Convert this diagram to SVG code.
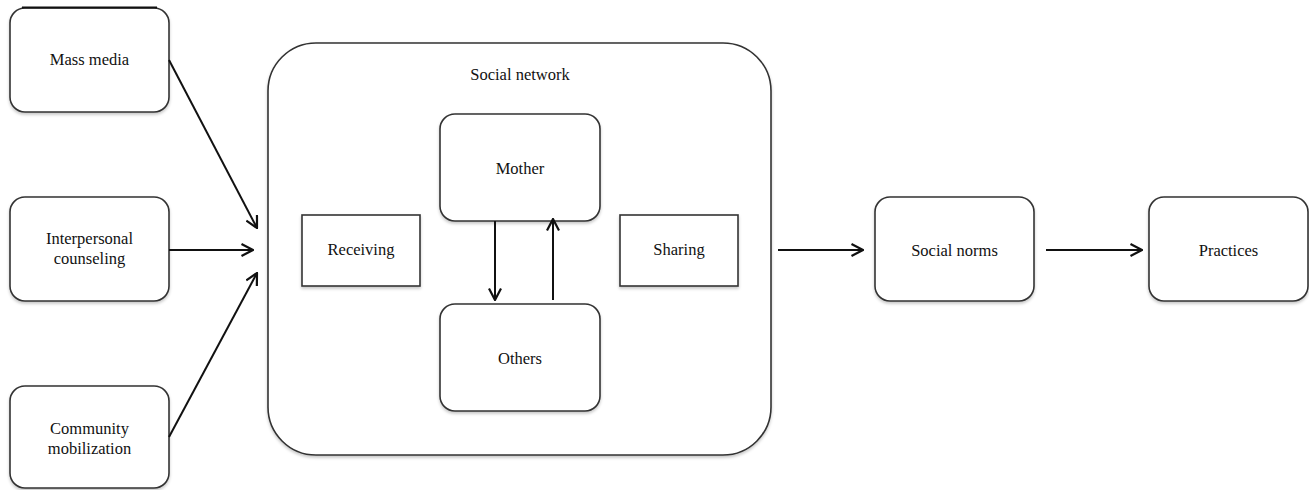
<svg xmlns="http://www.w3.org/2000/svg" width="1309" height="490" viewBox="0 0 1309 490">
  <defs>
    <filter id="sh" x="-10%" y="-10%" width="120%" height="130%">
      <feDropShadow dx="0" dy="2" stdDeviation="1.5" flood-color="#000" flood-opacity="0.22"/>
    </filter>
    <marker id="arr" viewBox="0 0 14 14" refX="13" refY="7" markerWidth="14" markerHeight="14" markerUnits="userSpaceOnUse" orient="auto">
      <path d="M1.5,1 L13,7 L1.5,13" fill="none" stroke="#111" stroke-width="2.2" stroke-linejoin="miter"/>
    </marker>
    <style>
      .box { fill: #fff; stroke: #333; stroke-width: 1.6; filter: url(#sh); }
      .lbl { font-family: "Liberation Serif", "Times New Roman", serif; font-size: 16.5px; fill: #111; text-anchor: middle; }
      .con { stroke: #111; stroke-width: 2; fill: none; marker-end: url(#arr); }
    </style>
  </defs>
  <rect width="1309" height="490" fill="#fff"/>

  <g id="mass-media">
    <rect class="box" x="10" y="8" width="159" height="104" rx="15"/>
    <line x1="22" y1="7.5" x2="157" y2="7.5" stroke="#111" stroke-width="2"/>
    <text class="lbl" x="89.5" y="65">Mass media</text>
  </g>
  <g id="interpersonal-counseling">
    <rect class="box" x="10" y="197" width="159" height="104" rx="15"/>
    <text class="lbl" x="89.5" y="244">Interpersonal</text>
    <text class="lbl" x="89.5" y="264">counseling</text>
  </g>
  <g id="community-mobilization">
    <rect class="box" x="10" y="386" width="159" height="102" rx="15"/>
    <text class="lbl" x="89.5" y="434">Community</text>
    <text class="lbl" x="89.5" y="454">mobilization</text>
  </g>

  <g id="social-network">
    <rect class="box" x="268" y="43" width="503" height="412" rx="48"/>
    <text class="lbl" x="520" y="80">Social network</text>
  </g>
  <g id="mother">
    <rect class="box" x="440" y="114" width="160" height="107" rx="15"/>
    <text class="lbl" x="520" y="174">Mother</text>
  </g>
  <g id="receiving">
    <rect class="box" x="302" y="215" width="118" height="71"/>
    <text class="lbl" x="361" y="255">Receiving</text>
  </g>
  <g id="sharing">
    <rect class="box" x="620" y="215" width="118" height="71"/>
    <text class="lbl" x="679" y="255">Sharing</text>
  </g>
  <g id="others">
    <rect class="box" x="440" y="304" width="160" height="107" rx="15"/>
    <text class="lbl" x="520" y="364">Others</text>
  </g>
  <g id="social-norms">
    <rect class="box" x="875" y="197" width="159" height="104" rx="15"/>
    <text class="lbl" x="954.5" y="256">Social norms</text>
  </g>
  <g id="practices">
    <rect class="box" x="1149" y="197" width="159" height="104" rx="15"/>
    <text class="lbl" x="1228.5" y="256">Practices</text>
  </g>

  <g id="connectors">
    <line class="con" x1="169" y1="60" x2="257" y2="228"/>
    <line class="con" x1="169" y1="250" x2="253" y2="250"/>
    <line class="con" x1="169" y1="437" x2="257" y2="273"/>
    <line class="con" x1="495" y1="221" x2="495" y2="300"/>
    <line class="con" x1="553" y1="300" x2="553" y2="219"/>
    <line class="con" x1="778" y1="250" x2="863" y2="250"/>
    <line class="con" x1="1046" y1="250" x2="1142" y2="250"/>
  </g>
</svg>
